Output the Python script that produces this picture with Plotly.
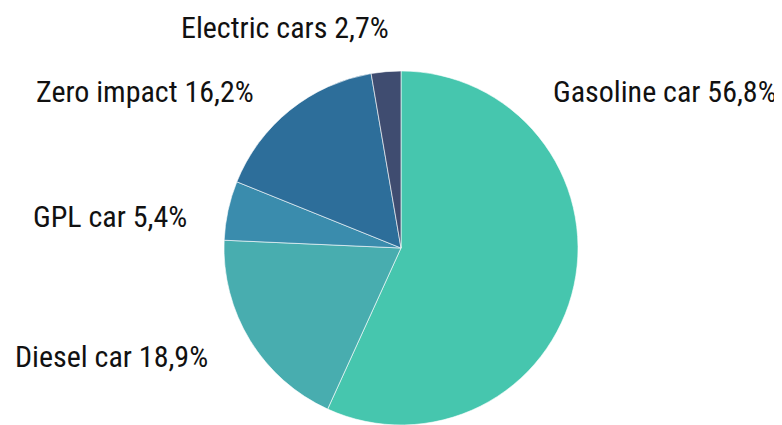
import plotly.graph_objects as go

labels = ["Gasoline car", "Diesel car", "GPL car", "Zero impact", "Electric cars"]
values = [56.8, 18.9, 5.4, 16.2, 2.7]
colors = ["#46C6AE", "#48ADAF", "#3A8CAD", "#2D6E9A", "#3F4C70"]

# figure size (page body adds an 8px margin)
W, H = 774, 417
# label anchor positions in figure pixels: x, y, horizontal anchor
label_pos = [(770, 84, "right"), (103, 348, "center"), (102, 208, "center"),
             (137, 84, "center"), (277, 19, "center")]

fig = go.Figure(go.Pie(
    labels=labels, values=values, sort=False, direction="clockwise", rotation=0,
    marker=dict(colors=colors, line=dict(color="white", width=0.6)),
    textinfo="none", hoverinfo="label+percent", showlegend=False,
    domain=dict(x=[216 / W, 570 / W], y=[0, 354 / H]),
))

font_family = "Roboto Condensed, Liberation Sans Narrow, DejaVu Sans Condensed, Arial Narrow, sans-serif"
for lab, val, (px, py, xa) in zip(labels, values, label_pos):
    txt = f"{lab} {str(val).replace('.', ',')}%"
    fig.add_annotation(x=px / W, y=1 - py / H, xref="paper", yref="paper",
                       text=txt, showarrow=False, xanchor=xa, yanchor="middle",
                       borderpad=0,
                       font=dict(family=font_family, size=30, color="#111111"))

fig.update_layout(width=W, height=H, margin=dict(l=0, r=0, t=0, b=0),
                  paper_bgcolor="white", plot_bgcolor="white")
fig.write_html("out.html")
